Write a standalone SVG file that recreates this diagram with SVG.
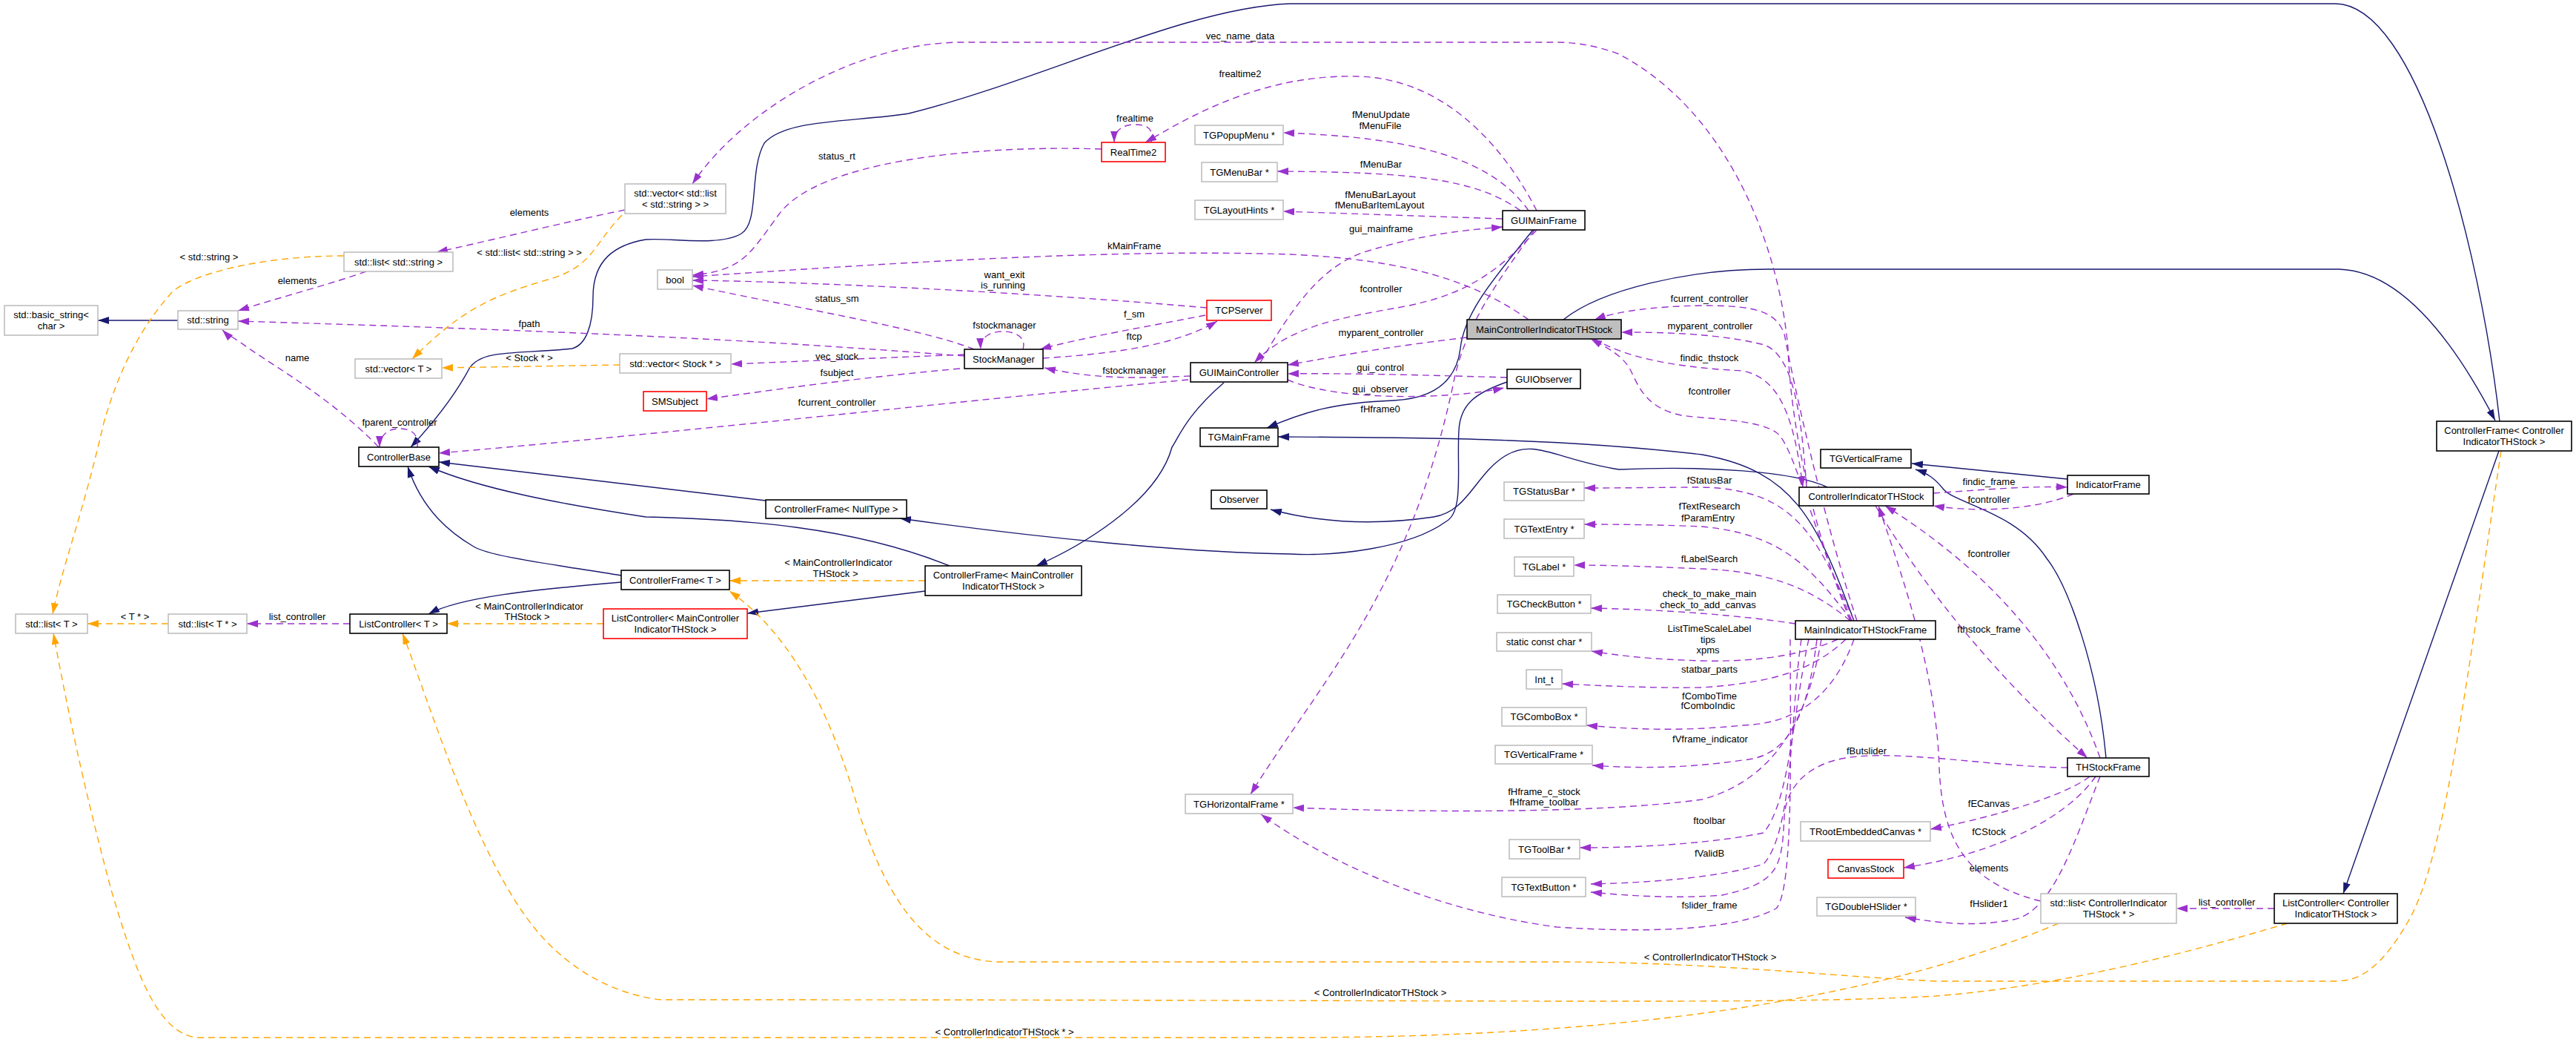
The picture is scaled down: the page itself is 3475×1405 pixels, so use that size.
<svg xmlns="http://www.w3.org/2000/svg" width="3475" height="1405" viewBox="0 0 3475 1405">
<style>
text{font-family:"Liberation Sans",Arial,Helvetica,sans-serif;font-size:13px;fill:#000;text-anchor:middle}
.box{fill:#fff;stroke-width:1.6}
.g{stroke:#bfbfbf}.k{stroke:#000}.r{stroke:#ff0000}.f{fill:#bfbfbf}
.inh{fill:none;stroke:#191970;stroke-width:1.4;marker-end:url(#an)}
.use{fill:none;stroke:#9a32cd;stroke-width:1.4;stroke-dasharray:9,6;marker-end:url(#ap)}
.tpl{fill:none;stroke:#ffa500;stroke-width:1.4;stroke-dasharray:9,6;marker-end:url(#ao)}
</style>
<defs>
<marker id="an" markerUnits="userSpaceOnUse" markerWidth="16" markerHeight="11" refX="15" refY="5" orient="auto"><path d="M0,0L15,5L0,10z" fill="#191970"/></marker>
<marker id="ap" markerUnits="userSpaceOnUse" markerWidth="16" markerHeight="11" refX="15" refY="5" orient="auto"><path d="M0,0L15,5L0,10z" fill="#9a32cd"/></marker>
<marker id="ao" markerUnits="userSpaceOnUse" markerWidth="16" markerHeight="11" refX="15" refY="5" orient="auto"><path d="M0,0L15,5L0,10z" fill="#ffa500"/></marker>
</defs>
<rect width="3475" height="1405" fill="#fff"/>
<g id="connectors">
<!-- inheritance -->
<path class="inh" d="M240,432L132,432"/>
<path class="inh" d="M3372,568C3345,330 3260,5 3150,5L1740,5C1600,10 1400,110 1226,153C1150,165 1060,160 1031,193C1010,230 1025,300 1000,315C970,333 900,320 871,323C830,330 800,350 800,400C800,440 790,465 772,470C700,478 650,470 633,497C610,540 580,575 554,603"/>
<path class="inh" d="M2109,431C2160,390 2280,363 2384,363L3155,363C3230,365 3300,440 3366,567"/>
<path class="inh" d="M3371,608L3161,1205"/>
<path class="inh" d="M1033,675L592,623"/>
<path class="inh" d="M1281,763C1150,710 1000,700 871,697C760,680 650,660 578,629"/>
<path class="inh" d="M838,776C740,760 660,750 639,737C610,720 570,690 550,629"/>
<path class="inh" d="M838,785C720,795 620,805 578,828"/>
<path class="inh" d="M1248,797L1008,827"/>
<path class="inh" d="M1651,516C1600,560 1590,590 1581,603C1560,680 1450,740 1398,763"/>
<path class="inh" d="M2068,310C2020,370 1975,420 1970,470C1965,510 1940,537 1880,540C1800,543 1760,555 1709,577"/>
<path class="inh" d="M2501,837C2450,700 2420,635 2296,613C2100,590 1900,590 1724,589"/>
<path class="inh" d="M2465,657C2420,635 2300,628 2184,633C2100,620 2070,590 2030,615C1990,640 1980,690 1934,697C1880,705 1800,710 1714,687"/>
<path class="inh" d="M2033,515C1990,530 1970,545 1968,580C1965,630 1975,690 1951,703C1900,740 1800,750 1741,747C1600,745 1400,725 1214,699"/>
<path class="inh" d="M2789,646L2579,625"/>
<path class="inh" d="M2841,1022C2830,900 2790,790 2761,753C2720,690 2640,680 2622,660C2610,645 2600,638 2584,633"/>
<!-- usage -->
<path class="use" d="M494,366C440,385 380,400 321,419"/>
<path class="use" d="M843,283C760,300 680,320 589,340"/>
<path class="use" d="M1301,480C1100,465 900,450 321,433"/>
<path class="use" d="M511,603C450,540 380,500 336,470C320,458 305,450 300,445"/>
<path class="use" d="M563,603C565,585 555,578 539,578C522,578 512,588 512,603"/>
<path class="use" d="M472,841L333,841"/>
<path class="use" d="M1301,478L986,491"/>
<path class="use" d="M1295,497C1150,510 1050,525 953,538"/>
<path class="use" d="M1603,512C1300,540 900,585 592,611"/>
<path class="use" d="M1606,507C1540,510 1480,512 1409,496"/>
<path class="use" d="M2496,837C2440,700 2415,560 2412,470C2400,330 2330,150 2184,73C2150,60 2120,57 2101,57L1292,57C1150,60 1000,150 934,248"/>
<path class="use" d="M2073,284C2030,200 1950,105 1830,103C1700,100 1600,160 1545,192"/>
<path class="use" d="M1553,192C1558,172 1545,168 1531,168C1515,168 1503,175 1503,192"/>
<path class="use" d="M1486,201C1300,195 1100,220 1050,290C1010,345 1000,365 934,371"/>
<path class="use" d="M2062,284C2010,210 1900,185 1731,179"/>
<path class="use" d="M2051,284C1990,240 1900,232 1723,231"/>
<path class="use" d="M2027,295L1731,285"/>
<path class="use" d="M1700,489C1740,420 1780,360 1840,340C1920,315 1980,310 2027,306"/>
<path class="use" d="M2073,310C2010,380 1960,400 1896,413C1800,430 1740,440 1692,489"/>
<path class="use" d="M2062,431C1990,380 1900,350 1740,343C1500,335 1200,355 934,373"/>
<path class="use" d="M1628,415C1400,395 1100,380 934,378"/>
<path class="use" d="M1314,471C1250,445 1100,420 934,385"/>
<path class="use" d="M1380,471C1385,455 1370,447 1353,447C1335,447 1322,455 1323,471"/>
<path class="use" d="M1626,425C1550,440 1460,455 1403,471"/>
<path class="use" d="M1407,483C1480,478 1580,470 1642,433"/>
<path class="use" d="M1979,455C1850,470 1780,485 1737,492"/>
<path class="use" d="M2033,509C1900,505 1800,503 1737,504"/>
<path class="use" d="M1737,512C1800,540 1950,540 2029,523"/>
<path class="use" d="M2437,657C2430,560 2420,480 2380,465C2320,450 2250,448 2187,448"/>
<path class="use" d="M2505,837C2460,700 2420,520 2407,450C2395,420 2370,412 2296,412C2230,413 2180,420 2151,431"/>
<path class="use" d="M2151,457C2190,480 2250,495 2351,500C2400,510 2420,560 2432,657"/>
<path class="use" d="M2498,837C2440,700 2420,600 2396,583C2370,565 2300,565 2268,560C2220,550 2210,520 2200,500C2190,480 2170,470 2146,457"/>
<path class="use" d="M2070,310C2020,380 1975,440 1960,520C1900,800 1780,920 1687,1071"/>
<path class="use" d="M2501,837C2450,720 2420,660 2296,657C2250,657 2200,658 2137,658"/>
<path class="use" d="M2498,837C2440,760 2400,720 2296,710C2250,708 2200,707 2137,707"/>
<path class="use" d="M2496,837C2440,790 2380,770 2296,767C2250,765 2180,762 2123,762"/>
<path class="use" d="M2422,841C2350,830 2250,822 2146,820"/>
<path class="use" d="M2479,862C2440,880 2380,893 2296,891C2230,889 2190,885 2147,878"/>
<path class="use" d="M2490,862C2450,900 2400,920 2296,927C2230,928 2170,925 2107,922"/>
<path class="use" d="M2501,862C2480,920 2440,975 2351,978C2280,985 2220,985 2140,978"/>
<path class="use" d="M2451,862C2440,950 2420,1020 2351,1025C2280,1035 2220,1037 2148,1032"/>
<path class="use" d="M2457,862C2440,960 2400,1050 2296,1078C2150,1098 1900,1095 1744,1089"/>
<path class="use" d="M2440,862C2420,950 2415,1080 2379,1123C2320,1135 2230,1143 2131,1143"/>
<path class="use" d="M2430,862C2415,960 2420,1120 2379,1165C2320,1183 2230,1190 2146,1192"/>
<path class="use" d="M2415,862C2415,1000 2420,1200 2396,1225C2350,1250 2250,1260 2100,1250C1950,1230 1800,1170 1701,1098"/>
<path class="use" d="M2789,1035C2700,1035 2560,1010 2490,1022C2440,1030 2410,1060 2407,1100C2404,1170 2400,1190 2323,1207C2260,1212 2200,1208 2146,1203"/>
<path class="use" d="M2819,1047C2790,1070 2700,1100 2604,1118"/>
<path class="use" d="M2827,1047C2790,1100 2700,1150 2568,1170"/>
<path class="use" d="M2833,1047C2800,1130 2770,1230 2716,1240C2660,1250 2620,1245 2570,1237"/>
<path class="use" d="M2753,1215C2650,1190 2620,1130 2616,1035C2612,900 2560,760 2534,682"/>
<path class="use" d="M2833,1022C2790,900 2700,780 2543,682"/>
<path class="use" d="M2530,682C2600,800 2700,920 2816,1022"/>
<path class="use" d="M2608,665C2680,660 2740,655 2789,657"/>
<path class="use" d="M2797,666C2740,690 2660,690 2608,682"/>
<path class="use" d="M3068,1225L2936,1225"/>
<!-- template -->
<path class="tpl" d="M464,345C350,345 260,370 233,393C190,440 160,500 140,570C110,700 85,760 71,828"/>
<path class="tpl" d="M839,290C800,330 800,360 739,377C660,400 620,420 556,484"/>
<path class="tpl" d="M836,492L596,496"/>
<path class="tpl" d="M227,841L118,841"/>
<path class="tpl" d="M814,841L603,841"/>
<path class="tpl" d="M1248,783L984,783"/>
<path class="tpl" d="M3374,608C3330,900 3300,1150 3250,1240C3210,1310 3180,1323 3150,1323L2611,1323C2450,1315 2300,1297 2100,1297L1342,1297C1250,1290 1200,1220 1160,1100C1120,950 1060,850 984,797"/>
<path class="tpl" d="M3086,1245C2950,1285 2780,1330 2611,1343C2400,1355 2100,1348 892,1348C820,1340 760,1300 720,1250C640,1150 580,950 543,854"/>
<path class="tpl" d="M2777,1245C2600,1320 2300,1399 1740,1399L267,1399C210,1395 180,1300 150,1200C110,1050 90,950 72,854"/>
<!-- labels -->
<text x="714" y="291">elements</text>
<text x="282" y="351">&lt; std::string &gt;</text>
<text x="401" y="383">elements</text>
<text x="714" y="345">&lt; std::list&lt; std::string &gt; &gt;</text>
<text x="714" y="441">fpath</text>
<text x="401" y="487">name</text>
<text x="714" y="487">&lt; Stock * &gt;</text>
<text x="539" y="574">fparent_controller</text>
<text x="182" y="836">&lt; T * &gt;</text>
<text x="401" y="836">list_controller</text>
<text x="714" y="822">&lt; MainControllerIndicator</text>
<text x="711" y="836">THStock &gt;</text>
<text x="1673" y="53">vec_name_data</text>
<text x="1673" y="104">frealtime2</text>
<text x="1531" y="164">frealtime</text>
<text x="1129" y="215">status_rt</text>
<text x="1530" y="336">kMainFrame</text>
<text x="1355" y="375">want_exit</text>
<text x="1353" y="389">is_running</text>
<text x="1129" y="407">status_sm</text>
<text x="1530" y="428">f_sm</text>
<text x="1355" y="443">fstockmanager</text>
<text x="1530" y="458">ftcp</text>
<text x="1863" y="159">fMenuUpdate</text>
<text x="1862" y="174">fMenuFile</text>
<text x="1863" y="226">fMenuBar</text>
<text x="1862" y="267">fMenuBarLayout</text>
<text x="1861" y="281">fMenuBarItemLayout</text>
<text x="1863" y="313">gui_mainframe</text>
<text x="1863" y="394">fcontroller</text>
<text x="2306" y="407">fcurrent_controller</text>
<text x="2307" y="444">myparent_controller</text>
<text x="1863" y="453">myparent_controller</text>
<text x="1129" y="485">vec_stock</text>
<text x="1129" y="507">fsubject</text>
<text x="1530" y="504">fstockmanager</text>
<text x="1129" y="547">fcurrent_controller</text>
<text x="1131" y="763">&lt; MainControllerIndicator</text>
<text x="1127" y="778">THStock &gt;</text>
<text x="2306" y="487">findic_thstock</text>
<text x="1862" y="500">gui_control</text>
<text x="1862" y="529">gui_observer</text>
<text x="1862" y="556">fHframe0</text>
<text x="2306" y="532">fcontroller</text>
<text x="2306" y="652">fStatusBar</text>
<text x="2306" y="687">fTextResearch</text>
<text x="2304" y="703">fParamEntry</text>
<text x="2306" y="758">fLabelSearch</text>
<text x="2306" y="805">check_to_make_main</text>
<text x="2304" y="820">check_to_add_canvas</text>
<text x="2306" y="852">ListTimeScaleLabel</text>
<text x="2304" y="867">tips</text>
<text x="2304" y="881">xpms</text>
<text x="2306" y="907">statbar_parts</text>
<text x="2306" y="943">fComboTime</text>
<text x="2304" y="956">fComboIndic</text>
<text x="2307" y="1001">fVframe_indicator</text>
<text x="2518" y="1017">fButslider</text>
<text x="2083" y="1072">fHframe_c_stock</text>
<text x="2083" y="1086">fHframe_toolbar</text>
<text x="2306" y="1111">ftoolbar</text>
<text x="2306" y="1155">fValidB</text>
<text x="2306" y="1225">fslider_frame</text>
<text x="2683" y="654">findic_frame</text>
<text x="2683" y="678">fcontroller</text>
<text x="2683" y="751">fcontroller</text>
<text x="2683" y="853">fthstock_frame</text>
<text x="2683" y="1088">fECanvas</text>
<text x="2683" y="1126">fCStock</text>
<text x="2683" y="1175">elements</text>
<text x="2683" y="1223">fHslider1</text>
<text x="3004" y="1221">list_controller</text>
<text x="2307" y="1295">&lt; ControllerIndicatorTHStock &gt;</text>
<text x="1862" y="1343">&lt; ControllerIndicatorTHStock &gt;</text>
<text x="1355" y="1396">&lt; ControllerIndicatorTHStock * &gt;</text>
</g>
<g id="n_basic_string"><rect class="box g" x="6" y="412" width="126" height="40"/><text x="69" y="428.5">std::basic_string&lt;</text><text x="69" y="443.5">char &gt;</text></g>
<g id="n_string"><rect class="box g" x="240" y="419" width="81" height="25"/><text x="280.5" y="436">std::string</text></g>
<g id="n_list_string"><rect class="box g" x="464" y="340" width="147" height="26"/><text x="537.5" y="357.5">std::list&lt; std::string &gt;</text></g>
<g id="n_vector_list"><rect class="box g" x="843" y="248" width="136" height="40"/><text x="911" y="264.5">std::vector&lt; std::list</text><text x="911" y="279.5">&lt; std::string &gt; &gt;</text></g>
<g id="n_realtime2"><rect class="box r" x="1486" y="192" width="86" height="26"/><text x="1529" y="209.5">RealTime2</text></g>
<g id="n_popup"><rect class="box g" x="1612" y="169" width="119" height="26"/><text x="1671.5" y="186.5">TGPopupMenu *</text></g>
<g id="n_menubar"><rect class="box g" x="1621" y="219" width="102" height="26"/><text x="1672" y="236.5">TGMenuBar *</text></g>
<g id="n_layouthints"><rect class="box g" x="1612" y="270" width="119" height="26"/><text x="1671.5" y="287.5">TGLayoutHints *</text></g>
<g id="n_bool"><rect class="box g" x="887" y="364" width="47" height="26"/><text x="910.5" y="381.5">bool</text></g>
<g id="n_tcpserver"><rect class="box r" x="1628" y="405" width="87" height="27"/><text x="1671.5" y="423">TCPServer</text></g>
<g id="n_guimainframe"><rect class="box k" x="2027" y="284" width="111" height="26"/><text x="2082.5" y="301.5">GUIMainFrame</text></g>
<g id="n_mcit"><rect class="box k f" x="1979" y="431" width="208" height="26"/><text x="2083" y="448.5">MainControllerIndicatorTHStock</text></g>
<g id="n_vector_t"><rect class="box g" x="479" y="484" width="117" height="26"/><text x="537.5" y="501.5">std::vector&lt; T &gt;</text></g>
<g id="n_vector_stock"><rect class="box g" x="836" y="477" width="150" height="26"/><text x="911" y="494.5">std::vector&lt; Stock * &gt;</text></g>
<g id="n_stockmanager"><rect class="box k" x="1301" y="471" width="106" height="26"/><text x="1354" y="488.5">StockManager</text></g>
<g id="n_smsubject"><rect class="box r" x="868" y="528" width="85" height="26"/><text x="910.5" y="545.5">SMSubject</text></g>
<g id="n_guimaincontroller"><rect class="box k" x="1606" y="489" width="131" height="26"/><text x="1671.5" y="506.5">GUIMainController</text></g>
<g id="n_guiobserver"><rect class="box k" x="2033" y="498" width="99" height="26"/><text x="2082.5" y="515.5">GUIObserver</text></g>
<g id="n_controllerbase"><rect class="box k" x="484" y="603" width="108" height="26"/><text x="538" y="620.5">ControllerBase</text></g>
<g id="n_tgmainframe"><rect class="box k" x="1619" y="577" width="105" height="25"/><text x="1671.5" y="594">TGMainFrame</text></g>
<g id="n_observer"><rect class="box k" x="1634" y="661" width="75" height="25"/><text x="1671.5" y="678">Observer</text></g>
<g id="n_cf_nulltype"><rect class="box k" x="1033" y="674" width="190" height="25"/><text x="1128" y="691">ControllerFrame&lt; NullType &gt;</text></g>
<g id="n_cf_mcit"><rect class="box k" x="1248" y="763" width="211" height="40"/><text x="1353.5" y="779.5">ControllerFrame&lt; MainController</text><text x="1353.5" y="794.5">IndicatorTHStock &gt;</text></g>
<g id="n_cf_t"><rect class="box k" x="838" y="769" width="146" height="26"/><text x="911" y="786.5">ControllerFrame&lt; T &gt;</text></g>
<g id="n_lc_mcit"><rect class="box r" x="814" y="821" width="194" height="40"/><text x="911" y="837.5">ListController&lt; MainController</text><text x="911" y="852.5">IndicatorTHStock &gt;</text></g>
<g id="n_list_t"><rect class="box g" x="21" y="828" width="97" height="26"/><text x="69.5" y="845.5">std::list&lt; T &gt;</text></g>
<g id="n_list_tp"><rect class="box g" x="227" y="828" width="106" height="26"/><text x="280" y="845.5">std::list&lt; T * &gt;</text></g>
<g id="n_lc_t"><rect class="box k" x="472" y="828" width="131" height="26"/><text x="537.5" y="845.5">ListController&lt; T &gt;</text></g>
<g id="n_tgvframe"><rect class="box k" x="2456" y="606" width="122" height="25"/><text x="2517" y="623">TGVerticalFrame</text></g>
<g id="n_cit"><rect class="box k" x="2427" y="657" width="181" height="25"/><text x="2517.5" y="674">ControllerIndicatorTHStock</text></g>
<g id="n_indicatorframe"><rect class="box k" x="2789" y="641" width="110" height="25"/><text x="2844" y="658">IndicatorFrame</text></g>
<g id="n_cf_cit"><rect class="box k" x="3287" y="568" width="182" height="40"/><text x="3378" y="584.5">ControllerFrame&lt; Controller</text><text x="3378" y="599.5">IndicatorTHStock &gt;</text></g>
<g id="n_statusbar"><rect class="box g" x="2029" y="650" width="108" height="25"/><text x="2083" y="667">TGStatusBar *</text></g>
<g id="n_textentry"><rect class="box g" x="2029" y="700" width="108" height="26"/><text x="2083" y="717.5">TGTextEntry *</text></g>
<g id="n_label"><rect class="box g" x="2043" y="751" width="80" height="26"/><text x="2083" y="768.5">TGLabel *</text></g>
<g id="n_checkbutton"><rect class="box g" x="2020" y="802" width="126" height="25"/><text x="2083" y="819">TGCheckButton *</text></g>
<g id="n_staticchar"><rect class="box g" x="2019" y="853" width="128" height="25"/><text x="2083" y="870">static const char *</text></g>
<g id="n_int"><rect class="box g" x="2059" y="903" width="48" height="26"/><text x="2083" y="920.5">Int_t</text></g>
<g id="n_mif"><rect class="box k" x="2422" y="837" width="189" height="25"/><text x="2516.5" y="854">MainIndicatorTHStockFrame</text></g>
<g id="n_combobox"><rect class="box g" x="2026" y="954" width="114" height="25"/><text x="2083" y="971">TGComboBox *</text></g>
<g id="n_vframep"><rect class="box g" x="2017" y="1005" width="131" height="25"/><text x="2082.5" y="1022">TGVerticalFrame *</text></g>
<g id="n_hframep"><rect class="box g" x="1599" y="1071" width="145" height="26"/><text x="1671.5" y="1088.5">TGHorizontalFrame *</text></g>
<g id="n_toolbar"><rect class="box g" x="2036" y="1132" width="95" height="26"/><text x="2083.5" y="1149.5">TGToolBar *</text></g>
<g id="n_textbutton"><rect class="box g" x="2026" y="1183" width="113" height="26"/><text x="2082.5" y="1200.5">TGTextButton *</text></g>
<g id="n_rootcanvas"><rect class="box g" x="2429" y="1108" width="175" height="26"/><text x="2516.5" y="1125.5">TRootEmbeddedCanvas *</text></g>
<g id="n_canvasstock"><rect class="box r" x="2466" y="1159" width="102" height="25"/><text x="2517" y="1176">CanvasStock</text></g>
<g id="n_doublehslider"><rect class="box g" x="2451" y="1210" width="133" height="25"/><text x="2517.5" y="1227">TGDoubleHSlider *</text></g>
<g id="n_thstockframe"><rect class="box k" x="2789" y="1022" width="110" height="25"/><text x="2844" y="1039">THStockFrame</text></g>
<g id="n_list_cit"><rect class="box g" x="2753" y="1205" width="183" height="40"/><text x="2844.5" y="1221.5">std::list&lt; ControllerIndicator</text><text x="2844.5" y="1236.5">THStock * &gt;</text></g>
<g id="n_lc_cit"><rect class="box k" x="3068" y="1205" width="166" height="40"/><text x="3151" y="1221.5">ListController&lt; Controller</text><text x="3151" y="1236.5">IndicatorTHStock &gt;</text></g>
</svg>
